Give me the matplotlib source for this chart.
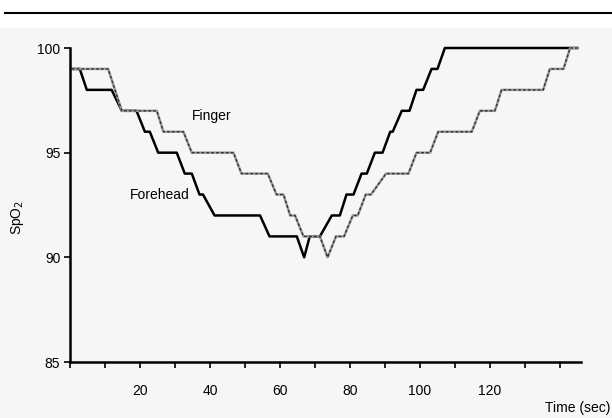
import numpy as np
import matplotlib.pyplot as plt
from matplotlib.lines import Line2D
from matplotlib.patches import Rectangle

plt.rcParams['font.family'] = ['Liberation Sans', 'DejaVu Sans']

# SpO2 readings (corner points of the step traces), time in seconds
forehead_t = [0.5, 2.8, 4.8, 11.9, 14.8, 19.0, 21.4, 22.8, 25.2, 30.5, 32.8, 34.8,
              37.0, 38.0, 41.3, 54.3, 57.0, 64.8, 66.9, 68.5, 71.4, 74.8, 77.1,
              79.0, 81.0, 83.3, 84.8, 87.1, 89.3, 91.5, 92.2, 94.8, 97.0, 99.0,
              100.9, 103.3, 105.0, 107.1, 145.0]
forehead_v = [99, 99, 98, 98, 97, 97, 96, 96, 95, 95, 94, 94,
              93, 93, 92, 92, 91, 91, 90, 91, 91, 92, 92,
              93, 93, 94, 94, 95, 95, 96, 96, 97, 97, 98,
              98, 99, 99, 100, 100]

finger_t = [0.5, 10.9, 14.8, 24.8, 26.7, 32.4, 34.8, 46.7, 49.0, 56.5, 59.0, 61.0,
            62.9, 64.3, 66.7, 71.4, 73.6, 76.0, 78.3, 80.8, 82.2, 84.5, 86.0,
            90.3, 96.7, 99.0, 102.9, 105.2, 114.8, 117.1, 121.4, 123.3, 135.2,
            137.1, 141.0, 142.9, 145.0]
finger_v = [99, 99, 97, 97, 96, 96, 95, 95, 94, 94, 93, 93,
            92, 92, 91, 91, 90, 91, 91, 92, 92, 93, 93,
            94, 94, 95, 95, 96, 96, 97, 97, 98, 98,
            99, 99, 100, 100]

x_ticks = np.arange(0, 150, 10)
x_labels = ['' if (t == 0 or t % 20 or t > 120) else str(t) for t in x_ticks]
y_ticks = [85, 90, 95, 100]

W, H = 612, 418
fig = plt.figure(figsize=(W / 100, H / 100), dpi=100)

# scanned page look: faint grey below the journal rule
fig.patches.append(Rectangle((0, 0), 1, 1 - 28 / H, transform=fig.transFigure,
                             facecolor='#f6f6f6', edgecolor='none', zorder=-1))
fig.add_artist(Line2D([5 / W, 1], [1 - 12.5 / H, 1 - 12.5 / H],
                      transform=fig.transFigure, color='black', lw=1.5))

ax = fig.add_axes([70 / W, 56 / H, 511 / W, 314 / H])
ax.set_facecolor('none')

ax.plot(forehead_t, forehead_v, color='black', lw=1.8,
        solid_joinstyle='round', clip_on=False)
ax.plot(finger_t, finger_v, color='#9a9a9a', lw=1.8,
        solid_joinstyle='round', clip_on=False)
ax.plot(finger_t, finger_v, color='#333333', lw=1.0, dashes=(2, 1.5),
        clip_on=False)

ax.text(34.9, 96.75, 'Finger', fontsize=10, va='center', ha='left')
ax.text(17.0, 92.98, 'Forehead', fontsize=10, va='center', ha='left')

ax.set_xlim(0, 146)
ax.set_ylim(85, 100)
ax.set_xticks(x_ticks)
ax.set_xticklabels(x_labels)
ax.set_yticks(y_ticks)
ax.tick_params(direction='out', length=4, width=1.2, labelsize=10, pad=12)
ax.tick_params(axis='y', pad=3)
for s in ['top', 'right']:
    ax.spines[s].set_visible(False)
for s in ['left', 'bottom']:
    ax.spines[s].set_linewidth(1.8)

fig.text(17 / W, 1 - 217 / H, 'SpO$_2$', rotation=90, fontsize=10,
         ha='center', va='center')
fig.text(610 / W, 1 - 408 / H, 'Time (sec)', fontsize=10, ha='right', va='center')

fig.savefig('out.png', dpi=100)
